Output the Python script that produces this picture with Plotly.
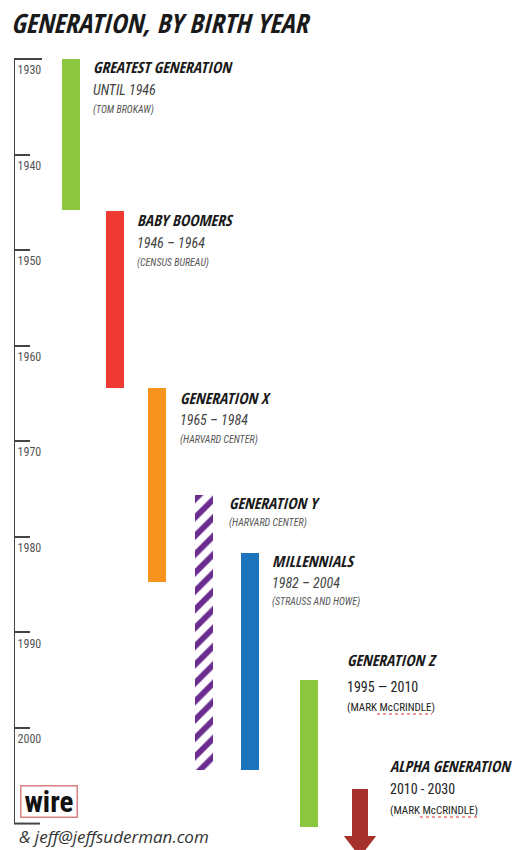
import plotly.graph_objects as go

# ---------------- data ----------------
GEN_NAMES = ["GREATEST GENERATION", "BABY BOOMERS", "GENERATION X", "GENERATION Y",
             "MILLENNIALS", "GENERATION Z", "ALPHA GENERATION"]
GEN_SPANS = ["UNTIL 1946", "1946 – 1964", "1965 – 1984", "", "1982 – 2004",
             "1995 — 2010", "2010 - 2030"]
GEN_SOURCES = ["(TOM BROKAW)", "(CENSUS BUREAU)", "(HARVARD CENTER)", "(HARVARD CENTER)",
               "(STRAUSS AND HOWE)", "(MARK McCRINDLE)", "(MARK McCRINDLE)"]
BAR_START = [1930, 1945.9, 1964.4, 1975.6, 1981.7, 1995.0]   # bar tops (years)
BAR_END = [1945.8, 1964.4, 1984.7, 2004.4, 2004.4, 2010.4]   # bar bottoms (years)
ALPHA_START = 2006.4      # arrow shaft top
ALPHA_SHAFT_END = 2011.3  # arrow shaft bottom (head follows)
TICK_YEARS = [1930, 1940, 1950, 1960, 1970, 1980, 1990, 2000]
AXIS_START, AXIS_END = 1930, 2010

# ---------------- layout / style ----------------
W, H = 532, 850
PX_PER_YEAR = 9.557
Y0_PX = 59  # pixel of 1930
Y_TOP = 1930 - Y0_PX / PX_PER_YEAR
Y_BOTTOM = 1930 + (H - Y0_PX) / PX_PER_YEAR
AX_X = 14

BAR_X = [71, 115, 157, 204, 250, 309]
BAR_W = 18
BAR_COLORS = ["#8CC63F", "#EE3A32", "#F7941D", "#6A2C8F", "#1C75BC", "#8CC63F"]
BAR_PATTERN = ["", "", "", "/", "", ""]
ARROW_X = 360
ARROW_COLOR = "#A5302C"

BOLDF = "Open Sans Condensed, Roboto Condensed, sans-serif"
NARROW = "Roboto Condensed, Archivo Narrow, sans-serif"
TITLE_X = [91, 135, 178, 227, 270, 345, 388]
TITLE_Y = [67, 220, 398, 503, 561, 660, 766]
SPAN_Y = [90, 243, 420, None, 583, 687, 789]
SOURCE_Y = [110, 263, 440, 523, 602, 707, 810]

fig = go.Figure()

fig.add_trace(go.Bar(
    x=BAR_X, base=BAR_START,
    y=[e - s for s, e in zip(BAR_START, BAR_END)],
    width=[BAR_W] * len(BAR_X),
    marker=dict(color=BAR_COLORS, line=dict(width=0),
                pattern=dict(shape=BAR_PATTERN, fgcolor="#D9B6EF", bgcolor="#6A2C8F",
                             fillmode="replace", size=13, solidity=0.45)),
    hoverinfo="skip", showlegend=False,
))

# Alpha generation arrow: shaft + head
fig.add_trace(go.Bar(
    x=[ARROW_X], base=[ALPHA_START], y=[ALPHA_SHAFT_END - ALPHA_START], width=[16],
    marker=dict(color=ARROW_COLOR, line=dict(width=0)),
    hoverinfo="skip", showlegend=False,
))
fig.add_trace(go.Scatter(
    x=[ARROW_X], y=[ALPHA_SHAFT_END + 7 / PX_PER_YEAR], mode="markers",
    marker=dict(symbol="triangle-down", size=28, color=ARROW_COLOR, line=dict(width=0)),
    hoverinfo="skip", showlegend=False, cliponaxis=False,
))

# axis line and caps
fig.add_shape(type="line", x0=AX_X, x1=AX_X, y0=AXIS_START, y1=AXIS_END,
              line=dict(color="#444", width=2), layer="above")
fig.add_shape(type="line", x0=AX_X, x1=42, y0=AXIS_START, y1=AXIS_START,
              line=dict(color="#444", width=2), layer="above")
fig.add_shape(type="line", x0=AX_X, x1=40, y0=AXIS_END, y1=AXIS_END,
              line=dict(color="#444", width=2), layer="above")


def px(x):
    return x / W


def py(y):
    return 1 - y / H


# spell-check style squiggle under "McCRINDLE"
for x0, x1, yy in [(377, 432, 714), (420, 478, 817)]:
    fig.add_shape(type="line", xref="paper", yref="paper", x0=px(x0), x1=px(x1),
                  y0=py(yy), y1=py(yy), line=dict(color="#E03030", width=1.2, dash="dot"))

ann = []
ann.append(dict(text="<b><i>GENERATION, BY BIRTH YEAR</i></b>", x=px(9), y=py(23),
                font=dict(family=BOLDF, size=26.5, color="#1a1a1a")))
for i, name in enumerate(GEN_NAMES):
    late = i >= 5
    ann.append(dict(text=f"<b><i>{name}</i></b>", x=px(TITLE_X[i]), y=py(TITLE_Y[i]),
                    font=dict(family=BOLDF, size=15.5, color="#1a1a1a")))
    if GEN_SPANS[i]:
        txt = GEN_SPANS[i] if late else f"<i>{GEN_SPANS[i]}</i>"
        ann.append(dict(text=txt, x=px(TITLE_X[i]), y=py(SPAN_Y[i]),
                        font=dict(family=NARROW, size=14,
                                  color="#444" if not late else "#222")))
    txt = GEN_SOURCES[i] if late else f"<i>{GEN_SOURCES[i]}</i>"
    ann.append(dict(text=txt, x=px(TITLE_X[i]), y=py(SOURCE_Y[i]),
                    font=dict(family=NARROW, size=10 if not late else 11,
                              color="#555" if not late else "#222")))

ann.append(dict(text="<i>& jeff@jeffsuderman.com</i>", x=px(17), y=py(836),
                font=dict(family="Open Sans, Liberation Sans, sans-serif", size=17, color="#333")))
ann.append(dict(text="<b>wire</b>", x=px(20), y=py(801), width=55, height=30, align="center",
                font=dict(family=NARROW, size=29, color="#111"),
                bordercolor="#D98080", borderwidth=1.5, borderpad=0, bgcolor="white"))
for a in ann:
    a.update(xref="paper", yref="paper", xanchor="left", yanchor="middle", showarrow=False)

fig.update_layout(
    width=W, height=H, margin=dict(l=0, r=0, t=0, b=0),
    paper_bgcolor="white", plot_bgcolor="white",
    annotations=ann, bargap=0,
    xaxis=dict(domain=[AX_X / W, 1], range=[AX_X, W], visible=False, fixedrange=True),
    yaxis=dict(range=[Y_BOTTOM, Y_TOP], domain=[0, 1], showgrid=False, zeroline=False,
               showline=False, ticks="inside", ticklen=16, tickwidth=2, tickcolor="#444",
               tickvals=TICK_YEARS, ticktext=[str(t) for t in TICK_YEARS],
               ticklabelposition="inside", ticklabelstandoff=-13, ticklabelshift=-11,
               tickfont=dict(family=NARROW, size=12, color="#555"), fixedrange=True),
)

fig.write_html("out.html", config={"displayModeBar": False},
               post_script="document.body.style.margin='0';")
